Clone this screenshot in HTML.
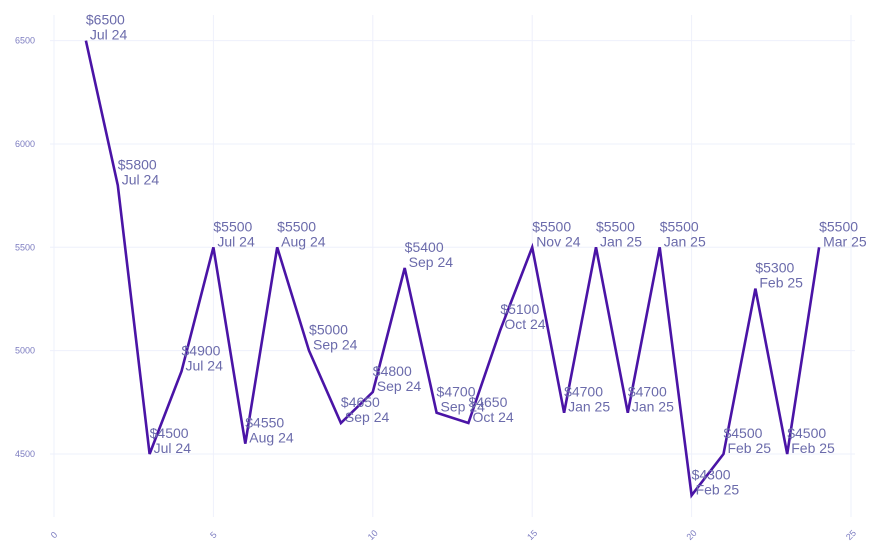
<!DOCTYPE html>
<html><head><meta charset="utf-8"><style>
body{margin:0;background:#fff;}
svg{display:block;font-family:"Liberation Sans",sans-serif;}
</style></head><body>
<svg id="chart" width="882" height="558" viewBox="0 0 882 558">
<g id="grid"></g>
<g id="axes"></g>
<path id="line" fill="none" stroke="#4a14a6" stroke-width="2.6" stroke-linejoin="miter"></path>
<g id="labels"></g>
</svg>
<script>
const xs=[1,2,3,4,5,6,7,8,9,10,11,12,13,14,15,16,17,18,19,20,21,22,23,24];
const prices=[6500,5800,4500,4900,5500,4550,5500,5000,4650,4800,5400,4700,4650,5100,5500,4700,5500,4700,5500,4300,4500,5300,4500,5500];
const months=["Jul 24","Jul 24","Jul 24","Jul 24","Jul 24","Aug 24","Aug 24","Sep 24","Sep 24","Sep 24","Sep 24","Sep 24","Oct 24","Oct 24","Nov 24","Jan 25","Jan 25","Jan 25","Jan 25","Feb 25","Feb 25","Feb 25","Feb 25","Mar 25"];
const xTicks=[0,5,10,15,20,25];
const yTicks=[4500,5000,5500,6000,6500];
const X=v=>54+v*31.88;
const Y=v=>454-(v-4500)*0.2067;
const NS="http://www.w3.org/2000/svg";
const grid=document.getElementById('grid'),axes=document.getElementById('axes'),labels=document.getElementById('labels');
function mk(t,a,p){const e=document.createElementNS(NS,t);for(const k in a)e.setAttribute(k,a[k]);p.appendChild(e);return e;}
xTicks.forEach(t=>{
 const l=mk('line',{x1:X(t),x2:X(t),y1:15,y2:517,stroke:'#eef0fb','stroke-width':1},grid);
 
 
 const tx=mk('text',{x:X(t),y:538,'font-size':9,fill:'#7c7cc0','text-anchor':'middle',transform:`rotate(-45 ${X(t)} 535)`},axes);
 tx.textContent=t;
 
 
});
yTicks.forEach(t=>{
 const l=mk('line',{x1:50,x2:855,y1:Y(t),y2:Y(t),stroke:'#eef0fb','stroke-width':1},grid);
 
 
 const tx=mk('text',{x:35,y:Y(t)+3,'font-size':9,fill:'#7c7cc0','text-anchor':'end'},axes);
 tx.textContent=t;
 
 
});
document.getElementById('line').setAttribute('d',xs.map((x,i)=>(i?'L':'M')+X(x).toFixed(1)+','+Y(prices[i]).toFixed(1)).join(''));
xs.forEach((x,i)=>{
 const px=X(x),py=Y(prices[i]);
 const t=mk('text',{x:px,y:py-16,'font-size':14,fill:'#6b6bab'},labels);
 
 
 const a=mk('tspan',{x:px},t);a.textContent='$'+prices[i];
 const b=mk('tspan',{x:px+4,dy:15},t);b.textContent=months[i];
});
</script>
</body></html>
